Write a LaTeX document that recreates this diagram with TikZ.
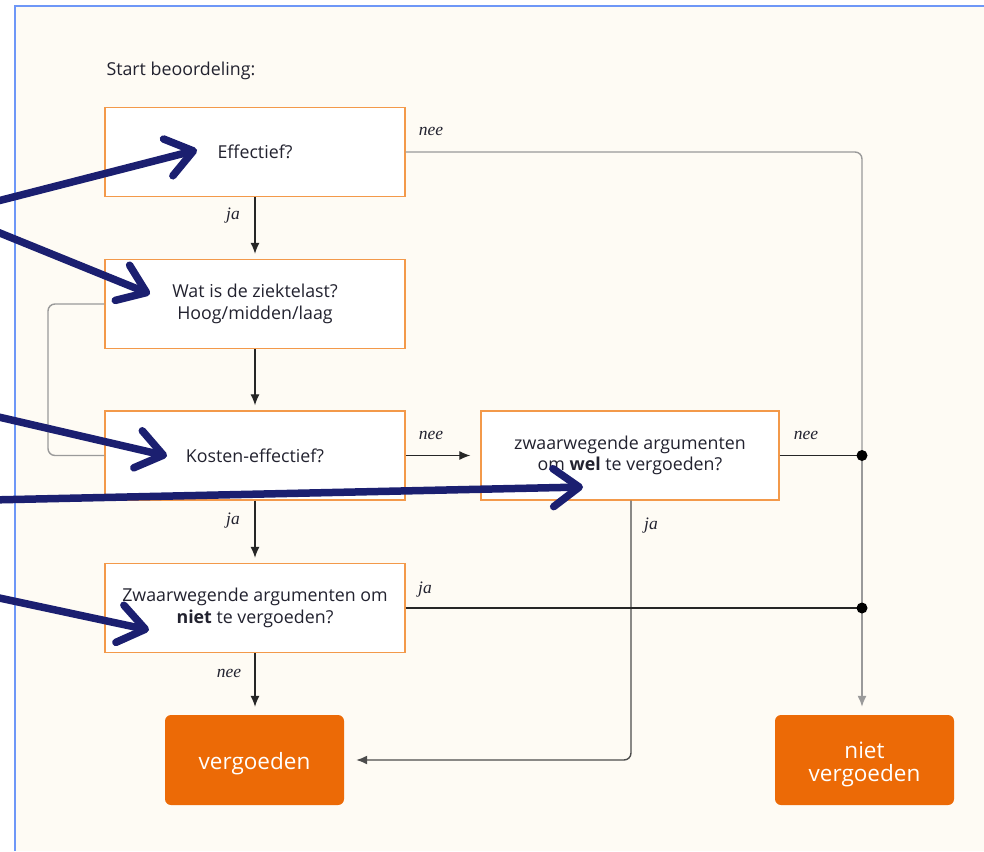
\documentclass[tikz,border=0pt]{standalone}
\usepackage{fontspec}
\setmainfont{Open Sans}
\newfontfamily\lblfont{Liberation Serif}
\usetikzlibrary{arrows.meta}
\definecolor{cream}{HTML}{FEFBF4}
\definecolor{frameblue}{HTML}{6E97F7}
\definecolor{boxorange}{HTML}{F3994A}
\definecolor{fillorange}{HTML}{EC6A06}
\definecolor{navy}{HTML}{1B1F70}
\definecolor{txt}{HTML}{22222F}
\definecolor{lgray}{HTML}{9A9A9A}
\newcommand{\lowr}[1]{\raisebox{-4pt}[\height][\depth]{#1}}
\tikzset{
  qbox/.style={draw=boxorange, line width=1.4pt, fill=white, minimum width=300pt, minimum height=89pt, align=center, font=\fontsize{17.8}{21.5}\selectfont, text=txt, inner sep=2pt},
  endbox/.style={fill=fillorange, rounded corners=6pt, minimum width=179pt, minimum height=90pt, align=center, text=white, font=\fontsize{22.5}{23}\selectfont},
  bline/.style={draw=black!85, line width=1.1pt},
  gline/.style={draw=lgray, line width=1.4pt},
  arr/.style={-{Latex[length=11pt,width=9pt]}},
  lbl/.style={font=\lblfont\itshape\fontsize{17.5}{17.5}\selectfont, text=txt, inner sep=0pt},
  anno/.style={draw=navy, line width=7.5pt, line cap=round, -{Straight Barb[length=26pt,width=38pt,round]}}
}
\begin{document}
\begin{tikzpicture}[x=1pt,y=-1pt]
\useasboundingbox (0,0) rectangle (984,851);
\fill[white] (0,0) rectangle (984,851);
\fill[cream] (15,6) rectangle (984,851);
\draw[frameblue, line width=2.5pt] (15,851) -- (15,6) -- (984,6);

\node[anchor=west, font=\fontsize{17.8}{21}\selectfont, text=txt] (start) at (103,71) {Start beoordeling:};

\node[qbox] (eff) at (255,152) {Effectief?};
\node[qbox] (ziek) at (255,304) {Wat is de ziektelast?\\Hoog/midden/laag};
\node[qbox] (kost) at (255,455.5) {Kosten-effectief?};
\node[qbox, minimum width=298pt] (wel) at (630,455.5) {zwaarwegende argumenten\\om \textbf{wel} te vergoeden?};
\node[qbox] (zniet) at (255,608) {Zwaarwegende argumenten om\\\textbf{niet} te vergoeden?};
\node[endbox] (verg) at (254.5,760) {\lowr{vergoeden}};
\node[endbox] (niet) at (864.5,760) {\lowr{niet}\\\lowr{vergoeden}};

\coordinate (c1) at (862,152);
\coordinate (d1) at (862,455.5);
\coordinate (d2) at (862,608);
\coordinate (l1) at (48,304);
\coordinate (l2) at (48,455.5);
\coordinate (w1) at (631,760);

% connectors
\draw[gline, rounded corners=7pt] (eff.east) -- (c1) -- (d1);
\draw[gline] (d1) -- (d2);
\draw[gline, arr, shorten >=8pt] (d2) -- (niet.north -| d2);
\draw[bline, arr, shorten >=5pt] (eff.south) -- (ziek.north);
\draw[bline, arr, shorten >=5pt] (ziek.south) -- (kost.north);
\draw[gline, rounded corners=7pt] (ziek.west) -- (l1) -- (l2) -- (kost.west);
\draw[bline, arr, shorten >=10pt] (kost.east) -- (wel.west);
\draw[bline] (wel.east) -- (d1);
\draw[gline, draw=black!70, rounded corners=7pt, arr, shorten >=12pt] (wel.south -| w1) -- (w1) -- (verg.east);
\draw[bline, arr, shorten >=5pt] (kost.south) -- (zniet.north);
\draw[bline] (zniet.east) -- (d2);
\draw[bline, arr, shorten >=8pt] (zniet.south) -- (verg.north -| zniet.south);
\fill[black] (d1) circle[radius=5.5pt];
\fill[black] (d2) circle[radius=5.5pt];

% labels
\node[lbl] (l_nee1) at (431,131) {nee};
\node[lbl] (l_ja1) at (233,216) {ja};
\node[lbl] (l_nee2) at (431,435) {nee};
\node[lbl] (l_nee3) at (806,435) {nee};
\node[lbl] (l_ja2) at (651,526) {ja};
\node[lbl] (l_ja3) at (233,521) {ja};
\node[lbl] (l_ja4) at (425,590) {ja};
\node[lbl] (l_nee4) at (229,673) {nee};

% annotation arrows
\coordinate (a1s) at (-10,203); \coordinate (a1t) at (197,150);
\coordinate (a2s) at (-10,229); \coordinate (a2t) at (150,294);
\coordinate (a3s) at (-10,415); \coordinate (a3t) at (167,456);
\coordinate (a4s) at (-10,500); \coordinate (a4t) at (583,487);
\coordinate (a5s) at (-10,596); \coordinate (a5t) at (149,630);
\draw[anno] (a1s) -- (a1t);
\draw[anno] (a2s) -- (a2t);
\draw[anno] (a3s) -- (a3t);
\draw[anno] (a4s) -- (a4t);
\draw[anno] (a5s) -- (a5t);
\end{tikzpicture}
\end{document}
